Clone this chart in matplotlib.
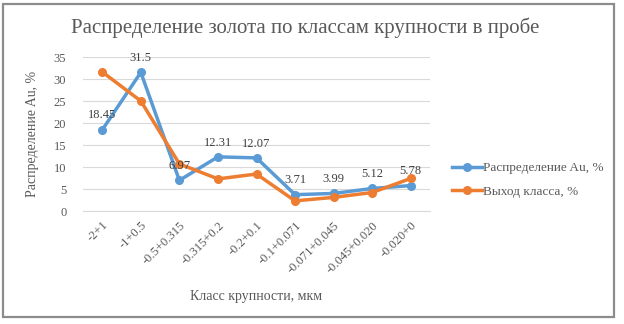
import matplotlib
matplotlib.use("Agg")
import matplotlib.pyplot as plt
from matplotlib.patches import Rectangle

classes = ["-2+1", "-1+0.5", "-0.5+0.315", "-0.315+0.2", "-0.2+0.1",
           "-0.1+0.071", "-0.071+0.045", "-0.045+0.020", "-0.020+0"]
au_share = [18.45, 31.5, 6.97, 12.31, 12.07, 3.71, 3.99, 5.12, 5.78]
class_yield = [31.6, 25.0, 10.7, 7.3, 8.4, 2.3, 3.1, 4.2, 7.4]
y_ticks = [0, 5, 10, 15, 20, 25, 30, 35]

BLUE = "#5b9bd5"
ORANGE = "#ed7d31"
TEXT = "#595959"

plt.rcParams["font.family"] = ["Liberation Serif", "DejaVu Serif"]

fig = plt.figure(figsize=(6.24, 3.24), dpi=100)
ax = fig.add_axes([83 / 624, 1 - 211 / 324, (430 - 83) / 624, (211 - 57) / 324])

x = list(range(len(classes)))
ax.plot(x, au_share, color=BLUE, lw=2.5, marker="o", ms=5.5, label="Распределение Au, %",
        solid_joinstyle="round", zorder=3)
ax.plot(x, class_yield, color=ORANGE, lw=2.5, marker="o", ms=5.5, label="Выход класса, %",
        solid_joinstyle="round", zorder=4)
for xi, v in zip(x, au_share):
    ax.annotate(f"{v:g}", (xi, v), xytext=(0, 6), textcoords="offset points",
                ha="center", va="bottom", fontsize=9, color="#404040", zorder=5)

ax.set_xlim(-0.5, len(classes) - 0.5)
ax.set_ylim(0, 35)
ax.set_yticks(y_ticks)
ax.set_xticks(x)
ax.set_xticklabels(classes, rotation=45, ha="right", rotation_mode="anchor")
ax.tick_params(axis="both", length=0, labelsize=9, colors=TEXT)
ax.tick_params(axis="y", pad=12)
ax.tick_params(axis="x", pad=6)
ax.grid(axis="y", color="#d9d9d9", lw=0.8)
ax.set_axisbelow(True)
for side in ("top", "right", "left"):
    ax.spines[side].set_visible(False)
ax.spines["bottom"].set_color("#d9d9d9")

ax.set_ylabel("Распределение Au, %", fontsize=10, color=TEXT, labelpad=11)
ax.set_xlabel("Класс крупности, мкм", fontsize=10, color=TEXT, labelpad=10)

fig.text(305 / 624, 1 - 28 / 324, "Распределение золота по классам крупности в пробе",
         ha="center", va="center", fontsize=15, color=TEXT)

fig.legend(loc="center left", bbox_to_anchor=(440 / 624, 1 - 180 / 324), frameon=False,
           fontsize=9.5, labelcolor=TEXT, handlelength=2.3, handletextpad=0.05,
           labelspacing=0.85)

fig.patches.append(Rectangle((3 / 624, 7 / 324), 611 / 624, 313 / 324,
                             transform=fig.transFigure, fill=False,
                             edgecolor="#8c8c8c", lw=1.6))

fig.savefig("out.png", dpi=100)
